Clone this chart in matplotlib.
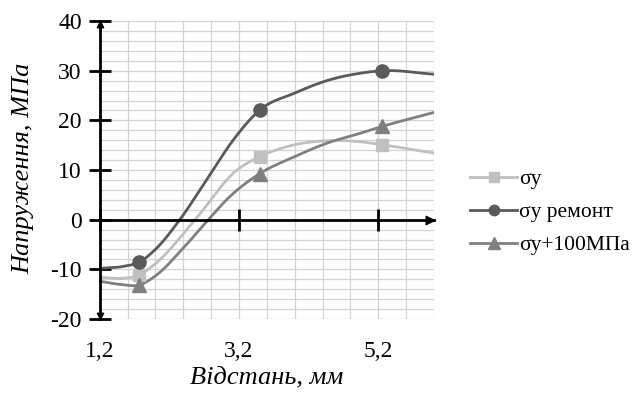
import numpy as np
import matplotlib
matplotlib.use("Agg")
import matplotlib.pyplot as plt
from matplotlib.path import Path
from matplotlib.lines import Line2D

plt.rcParams['font.family'] = ['Liberation Serif', 'DejaVu Serif']

# ---- data ----
x_markers = [1.76, 3.5, 5.26]
sy_markers = [-11.2, 12.7, 15.1]
rem_markers = [-8.6, 22.1, 30.0]
p100_markers = [-13.2, 9.3, 18.8]

sy_x = [1.2, 1.54, 1.76, 2.02, 2.57, 3.17, 3.5, 4.0, 4.46, 4.94, 5.26, 6.0]
sy_y = [-11.6, -11.8, -11.2, -8.6, 0.0, 10.0, 12.7, 15.1, 15.9, 15.7, 15.1, 13.4]

rem_x = [1.2, 1.54, 1.76, 2.02, 2.35, 2.78, 3.12, 3.5, 4.0, 4.46, 4.94, 5.26, 6.0]
rem_y = [-9.8, -9.4, -8.6, -5.7, 0.0, 9.0, 16.1, 22.1, 25.5, 28.0, 29.5, 30.0, 29.3]

p100_x = [1.2, 1.54, 1.76, 2.02, 2.40, 2.76, 3.02, 3.5, 4.0, 4.46, 4.94, 5.26, 6.0]
p100_y = [-12.4, -13.1, -13.2, -11.1, -5.7, 0.0, 4.0, 9.3, 12.7, 15.4, 17.4, 18.8, 21.6]

labels = ['σy', 'σy ремонт', 'σy+100МПа']
xtick_vals = [1.2, 3.2, 5.2]
xtick_labels = ['1,2', '3,2', '5,2']
ytick_vals = [-20, -10, 0, 10, 20, 30, 40]


def smooth(xs, ys, n=40):
    """Cubic Hermite curve through the points, tangents from local parabolas."""
    x = np.asarray(xs, float)
    y = np.asarray(ys, float)
    h = np.diff(x)
    d = np.diff(y) / h
    m = np.empty_like(y)
    m[1:-1] = (d[:-1] * h[1:] + d[1:] * h[:-1]) / (h[:-1] + h[1:])
    m[0] = d[0]
    m[-1] = d[-1]
    X, Y = [], []
    for i in range(len(x) - 1):
        t = np.linspace(0, 1, n)
        if i > 0:
            t = t[1:]
        h00 = 2 * t ** 3 - 3 * t ** 2 + 1
        h10 = t ** 3 - 2 * t ** 2 + t
        h01 = -2 * t ** 3 + 3 * t ** 2
        h11 = t ** 3 - t ** 2
        X.append(x[i] + t * h[i])
        Y.append(h00 * y[i] + h10 * h[i] * m[i] + h01 * y[i + 1] + h11 * h[i] * m[i + 1])
    return np.concatenate(X), np.concatenate(Y)


fig = plt.figure(figsize=(6.42, 3.98), dpi=100)
ax = fig.add_axes([0.1553, 0.1985, 0.5207, 0.7485])
ax.set_xlim(1.2, 6.0)
ax.set_ylim(-20, 40)

# grid
for gx in np.arange(1.2, 6.0001, 0.4):
    ax.axvline(gx, color='#d4d4d4', lw=0.9, zorder=0)
for gy in np.arange(-20, 40.001, 2):
    ax.axhline(gy, color='#d4d4d4', lw=0.9, zorder=0)

c_sy = '#c0c0c0'
c_rem = '#5a5a5a'
c_p100 = '#808080'

series = [
    (sy_x, sy_y, sy_markers, c_sy, 's', 8.5),
    (p100_x, p100_y, p100_markers, c_p100, '^', 9.5),
    (rem_x, rem_y, rem_markers, c_rem, 'o', 9.5),
]
for xs, ys, my, col, mk, ms in series:
    sx, syy = smooth(xs, ys)
    ax.plot(sx, syy, color=col, lw=2.0, zorder=3, solid_capstyle='round')
    ax.plot(x_markers, my, ls='none', marker=mk, ms=ms, color=col, zorder=4)

# axes spines
for s in ['top', 'right']:
    ax.spines[s].set_visible(False)
ax.spines['left'].set_position(('data', 1.2))
ax.spines['bottom'].set_position(('data', 0))
ax.spines['left'].set_linewidth(2)
ax.spines['bottom'].set_linewidth(2)
ax.spines['left'].set_zorder(5)
ax.spines['bottom'].set_zorder(5)

ax.set_yticks(ytick_vals)
ax.set_yticklabels([str(v) for v in ytick_vals])
ax.tick_params(axis='y', direction='inout', length=16, width=2, labelsize=17, pad=5)
ax.set_xticks(xtick_vals)
ax.tick_params(axis='x', direction='inout', length=16, width=2, labelbottom=False)

# arrow heads
up = Path([(0, 0), (-0.5, -1.0), (0.5, -1.0), (0, 0)], [1, 2, 2, 79])
down = Path([(0, 0), (-0.5, 1.0), (0.5, 1.0), (0, 0)], [1, 2, 2, 79])
right = Path([(0, 0), (-1.0, -0.5), (-1.0, 0.5), (0, 0)], [1, 2, 2, 79])
ax.plot([1.2], [40], marker=up, ms=9, color='black', clip_on=False, zorder=6)
ax.plot([1.2], [-20], marker=down, ms=9, color='black', clip_on=False, zorder=6)
ax.plot([6.0], [0], marker=right, ms=12, color='black', clip_on=False, zorder=6)

# x tick labels below the plot
sec = ax.secondary_xaxis(0.0)
sec.set_xticks(xtick_vals)
sec.set_xticklabels(xtick_labels)
sec.tick_params(length=0, labelsize=17, pad=16)
sec.spines['bottom'].set_visible(False)

fig.text(0.416, 0.052, 'Відстань, мм', fontsize=19, style='italic', ha='center', va='center')
fig.text(0.036, 0.578, 'Напруження, МПа', fontsize=19, style='italic', ha='center', va='center', rotation=90)

handles = [
    Line2D([], [], color=c_sy, lw=2.0, marker='s', ms=7),
    Line2D([], [], color=c_rem, lw=2.0, marker='o', ms=7.5),
    Line2D([], [], color=c_p100, lw=2.0, marker='^', ms=8),
]
fig.legend(handles, labels, loc='center left', bbox_to_anchor=(0.732, 0.467), frameon=False,
           fontsize=15.5, handlelength=2.2, handletextpad=0.1, labelspacing=0.6, borderpad=0,
           borderaxespad=0)

fig.savefig('out.png', dpi=100)
